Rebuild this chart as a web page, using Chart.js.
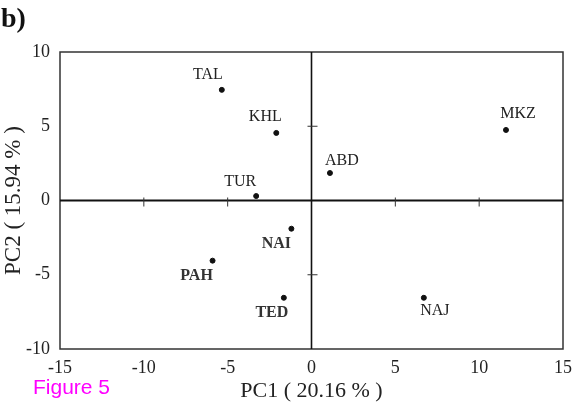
<!DOCTYPE html>
<html>
<head>
<meta charset="utf-8">
<script src="https://cdn.jsdelivr.net/npm/chart.js@4"></script>
<style>
  html, body { margin: 0; padding: 0; background: #fff; }
  #wrap { position: relative; width: 574px; height: 407px; }
</style>
</head>
<body>
<div id="wrap"><canvas id="chart" width="574" height="407"></canvas></div>
<script>
// Sites and their PCA scores
const sites = ['TAL', 'KHL', 'TUR', 'ABD', 'MKZ', 'NAI', 'PAH', 'TED', 'NAJ'];
const pc1 = [-5.35, -2.1, -3.3, 1.1, 11.6, -1.2, -5.9, -1.65, 6.7];
const pc2 = [7.45, 4.55, 0.3, 1.85, 4.75, -1.9, -4.05, -6.55, -6.55];
const xTicks = [-15, -10, -5, 0, 5, 10, 15];
const yTicks = [-10, -5, 0, 5, 10];

// label placement relative to the point (pixels) and weight
const labelStyle = {
    TAL: { dx: -14, dy: -15, bold: false },
    KHL: { dx: -11, dy: -16, bold: false },
    TUR: { dx: -16, dy: -14, bold: false },
    ABD: { dx: 12, dy: -12, bold: false },
    MKZ: { dx: 12, dy: -16, bold: false },
    NAI: { dx: -15, dy: 15, bold: true },
    PAH: { dx: -16, dy: 15, bold: true },
    TED: { dx: -12, dy: 15, bold: true },
    NAJ: { dx: 11, dy: 13, bold: false }
};

const points = sites.map((s, i) => ({ x: pc1[i], y: pc2[i], name: s }));

const serif = '"Liberation Serif", "Times New Roman", serif';

// frame, centre axes with ticks, point labels and extra captions
const decor = {
    id: 'decor',
    beforeDatasetsDraw(chart) {
        const { ctx, chartArea: a, scales: { x, y } } = chart;
        const x0 = x.getPixelForValue(0);
        const y0 = y.getPixelForValue(0);
        ctx.save();
        ctx.strokeStyle = '#333';
        ctx.lineWidth = 1.5;
        ctx.strokeRect(a.left, a.top, a.right - a.left, a.bottom - a.top);
        ctx.strokeStyle = '#111';
        ctx.lineWidth = 2.2;
        ctx.beginPath();
        ctx.moveTo(a.left, y0);
        ctx.lineTo(a.right, y0);
        ctx.stroke();
        ctx.lineWidth = 1.6;
        ctx.beginPath();
        ctx.moveTo(x0, a.top);
        ctx.lineTo(x0, a.bottom);
        ctx.stroke();
        ctx.lineWidth = 1;
        ctx.strokeStyle = '#333';
        xTicks.forEach(v => {
            if (v === 0 || Math.abs(v) === 15) return;
            const px = x.getPixelForValue(v);
            ctx.beginPath();
            ctx.moveTo(px, y0 - 3);
            ctx.lineTo(px, y0 + 6);
            ctx.stroke();
        });
        yTicks.forEach(v => {
            if (v === 0 || Math.abs(v) === 10) return;
            const py = y.getPixelForValue(v);
            ctx.beginPath();
            ctx.moveTo(x0 - 4, py);
            ctx.lineTo(x0 + 6, py);
            ctx.stroke();
        });
        ctx.restore();
    },
    afterDatasetsDraw(chart) {
        const { ctx, scales: { x, y } } = chart;
        ctx.save();
        ctx.textAlign = 'center';
        ctx.textBaseline = 'middle';
        points.forEach(p => {
            const st = labelStyle[p.name];
            ctx.font = (st.bold ? 'bold ' : '') + '16px ' + serif;
            ctx.fillStyle = st.bold ? '#333' : '#222';
            ctx.fillText(p.name, x.getPixelForValue(p.x) + st.dx, y.getPixelForValue(p.y) + st.dy);
        });
        ctx.textAlign = 'left';
        ctx.textBaseline = 'alphabetic';
        ctx.fillStyle = '#111';
        ctx.font = 'bold 28px ' + serif;
        ctx.fillText('b)', 1, 27);
        ctx.fillStyle = '#ff00ff';
        ctx.font = '21px "Liberation Sans", Arial, sans-serif';
        ctx.fillText('Figure 5', 33, 394);
        ctx.restore();
    }
};

new Chart(document.getElementById('chart'), {
    type: 'scatter',
    data: {
        datasets: [{
            data: points,
            backgroundColor: '#111',
            borderColor: '#111',
            pointRadius: 2.5,
            pointHoverRadius: 2.5
        }]
    },
    options: {
        responsive: false,
        animation: false,
        layout: { padding: { left: 0, top: 52, right: 11, bottom: 0 } },
        plugins: { legend: { display: false }, tooltip: { enabled: false } },
        scales: {
            x: {
                type: 'linear',
                min: -15, max: 15,
                afterBuildTicks: s => { s.ticks = xTicks.map(v => ({ value: v })); },
                afterFit: s => { s.height = 58; s.paddingLeft = 0; s.paddingRight = 0; },
                grid: { display: false },
                border: { display: false },
                ticks: { color: '#222', padding: 0, maxRotation: 0, font: { family: serif, size: 18 } },
                title: {
                    display: true,
                    text: 'PC1 ( 20.16 % )',
                    color: '#222',
                    padding: { top: 0, bottom: 3 },
                    font: { family: serif, size: 22 }
                }
            },
            y: {
                type: 'linear',
                min: -10, max: 10,
                afterBuildTicks: s => { s.ticks = yTicks.map(v => ({ value: v })); },
                afterFit: s => { s.width = 60; s.paddingTop = 0; s.paddingBottom = 0; },
                grid: { display: false },
                border: { display: false },
                ticks: { color: '#222', padding: 2, font: { family: serif, size: 18 } },
                title: {
                    display: true,
                    text: 'PC2 ( 15.94 % )',
                    color: '#222',
                    padding: { top: 0, bottom: 0 },
                    font: { family: serif, size: 23 }
                }
            }
        }
    },
    plugins: [decor]
});
</script>
</body>
</html>
